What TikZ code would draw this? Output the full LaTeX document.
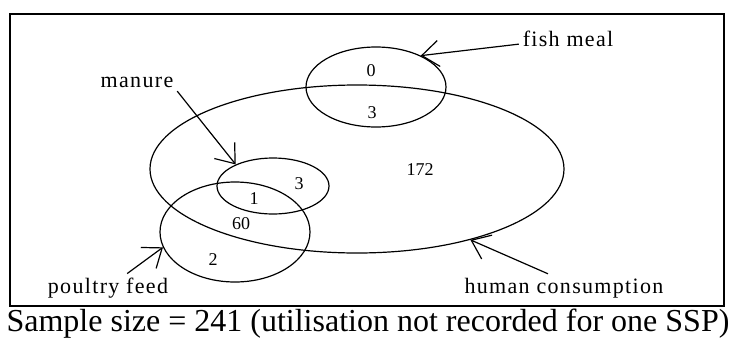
\documentclass[tikz,border=0pt]{standalone}
\usepackage{fontspec}
\setmainfont{Liberation Serif}
\newfontfamily\labfont[LetterSpace=6]{Liberation Serif}
\usetikzlibrary{shapes.geometric,arrows.meta}

\begin{document}
\begin{tikzpicture}[x=1pt,y=-1pt,->,>={Straight Barb[length=17pt,width=26pt]},
line width=1.2pt,
ring/.style={ellipse,draw,inner sep=0pt,line width=1.2pt},
num/.style={font=\fontsize{18}{18}\selectfont},
lab/.style={anchor=base,font=\labfont\fontsize{22}{22}\selectfont}]

\useasboundingbox (0,0) rectangle (737,338);
\draw[-,line width=1.4pt] (10,14) rectangle (724,306);

% the four sets
\node[ring,minimum width=414pt,minimum height=168pt] (human) at (357,169) {};
\node[ring,minimum width=140pt,minimum height=80pt] (fish) at (376,87) {};
\node[ring,minimum width=112pt,minimum height=56pt] (manure) at (273,186) {};
\node[ring,minimum width=150pt,minimum height=100pt] (poultry) at (235,232) {};

% counts
\node[num] (c0) at (371,71) {0};
\node[num] (c3a) at (372,113) {3};
\node[num] (c172) at (420,170) {172};
\node[num] (c3b) at (299,184) {3};
\node[num] (c1) at (254,199) {1};
\node[num] (c60) at (241,224) {60};
\node[num] (c2) at (213,260) {2};

% labels
\node[lab] (fishlab) at (568,46) {fish meal};
\node[lab] (manurelab) at (137,87) {manure};
\node[lab] (poultrylab) at (108,293) {poultry feed};
\node[lab] (humanlab) at (564,293) {human consumption};

\draw (fishlab) -- (fish.35);
\draw (manurelab.south east) -- (manure.150);
\draw (poultrylab) -- (poultry.192);
\draw ([xshift=-16pt]humanlab.north) -- (human.328);

\node[anchor=base,font=\fontsize{32}{32}\selectfont] (caption) at (368,331)
  {Sample size = 241 (utilisation not recorded for one SSP)};
\end{tikzpicture}
\end{document}
